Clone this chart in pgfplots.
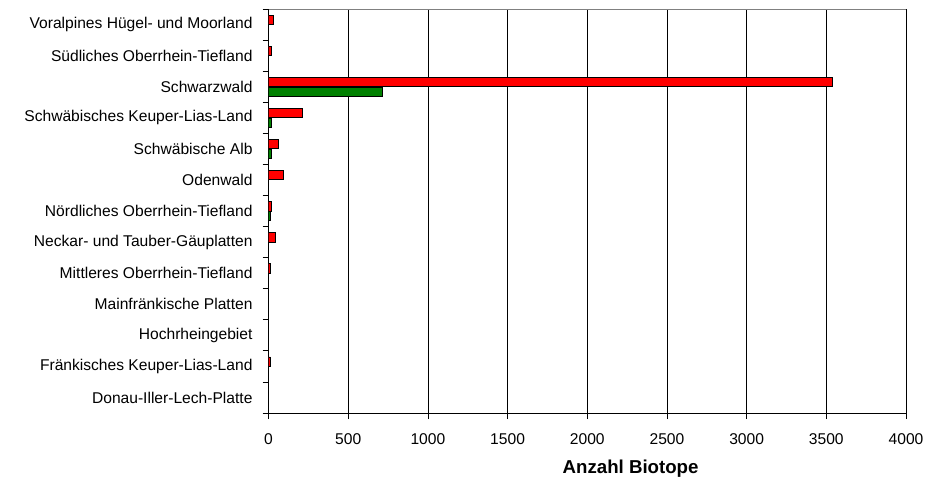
\documentclass[border=0pt]{standalone}
\usepackage{fontspec}
\setmainfont{Liberation Sans}
\usepackage{pgfplots}
\pgfplotsset{compat=1.18}

\definecolor{barred}{RGB}{255,0,0}
\definecolor{bargreen}{RGB}{0,128,0}

\begin{document}
\begin{tikzpicture}
\begin{axis}[
  name=ax,
  scale only axis,
  width=478.1pt, height=303pt,
  xbar, bar width=0.3,
  xmin=0, xmax=4000,
  ymin=-0.5, ymax=12.5,
  axis lines=left,
  axis line style={-, black},
  tick align=outside,
  tick pos=left,
  major tick length=4.5pt,
  tick style={black, line width=0.6pt},
  xtick={0,500,...,4000},
  scaled x ticks=false,
  /pgf/number format/1000 sep={},
  xmajorgrids,
  x grid style={black, line width=0.6pt},
  ytick={-0.5,0.5,...,12.5},
  y tick label as interval,
  yticklabels={Donau-Iller-Lech-Platte,
    Fränkisches Keuper-Lias-Land,
    Hochrheingebiet,
    Mainfränkische Platten,
    Mittleres Oberrhein-Tiefland,
    Neckar- und Tauber-Gäuplatten,
    Nördliches Oberrhein-Tiefland,
    Odenwald,
    Schwäbische Alb,
    Schwäbisches Keuper-Lias-Land,
    Schwarzwald,
    Südliches Oberrhein-Tiefland,
    Voralpines Hügel- und Moorland, {}},
  tick label style={font=\fontsize{11.7}{14}\selectfont},
  yticklabel style={xshift=-4pt},
  xticklabel style={yshift=-7.3pt},
  /pgf/number format/assume math mode=true,
  xlabel={Anzahl Biotope},
  xlabel style={font=\fontsize{14}{16}\selectfont\bfseries,
    at={(axis description cs:0.568,-0.139)}, anchor=center},
]
% Biotope je Naturraum (gruen)
\addplot[xbar, bar shift=-0.155, fill=bargreen, draw=black, line width=0.5pt]
  coordinates {(14,6) (15,8) (15,9) (717,10)};
% Biotope je Naturraum (rot)
\addplot[xbar, bar shift=0.155, fill=barred, draw=black, line width=0.5pt]
  coordinates {(12,1) (14,4) (40,5) (15,6) (90,7) (63,8) (215,9)
               (3540,10) (19,11) (31,12)};
\draw[gray, line width=0.8pt] (rel axis cs:0,1) -- (rel axis cs:1,1);
\end{axis}
\path (ax.south west) ++(-201.4pt,-49.5pt) rectangle ([shift={(30pt,6.75pt)}]ax.north east);
\end{tikzpicture}
\end{document}
